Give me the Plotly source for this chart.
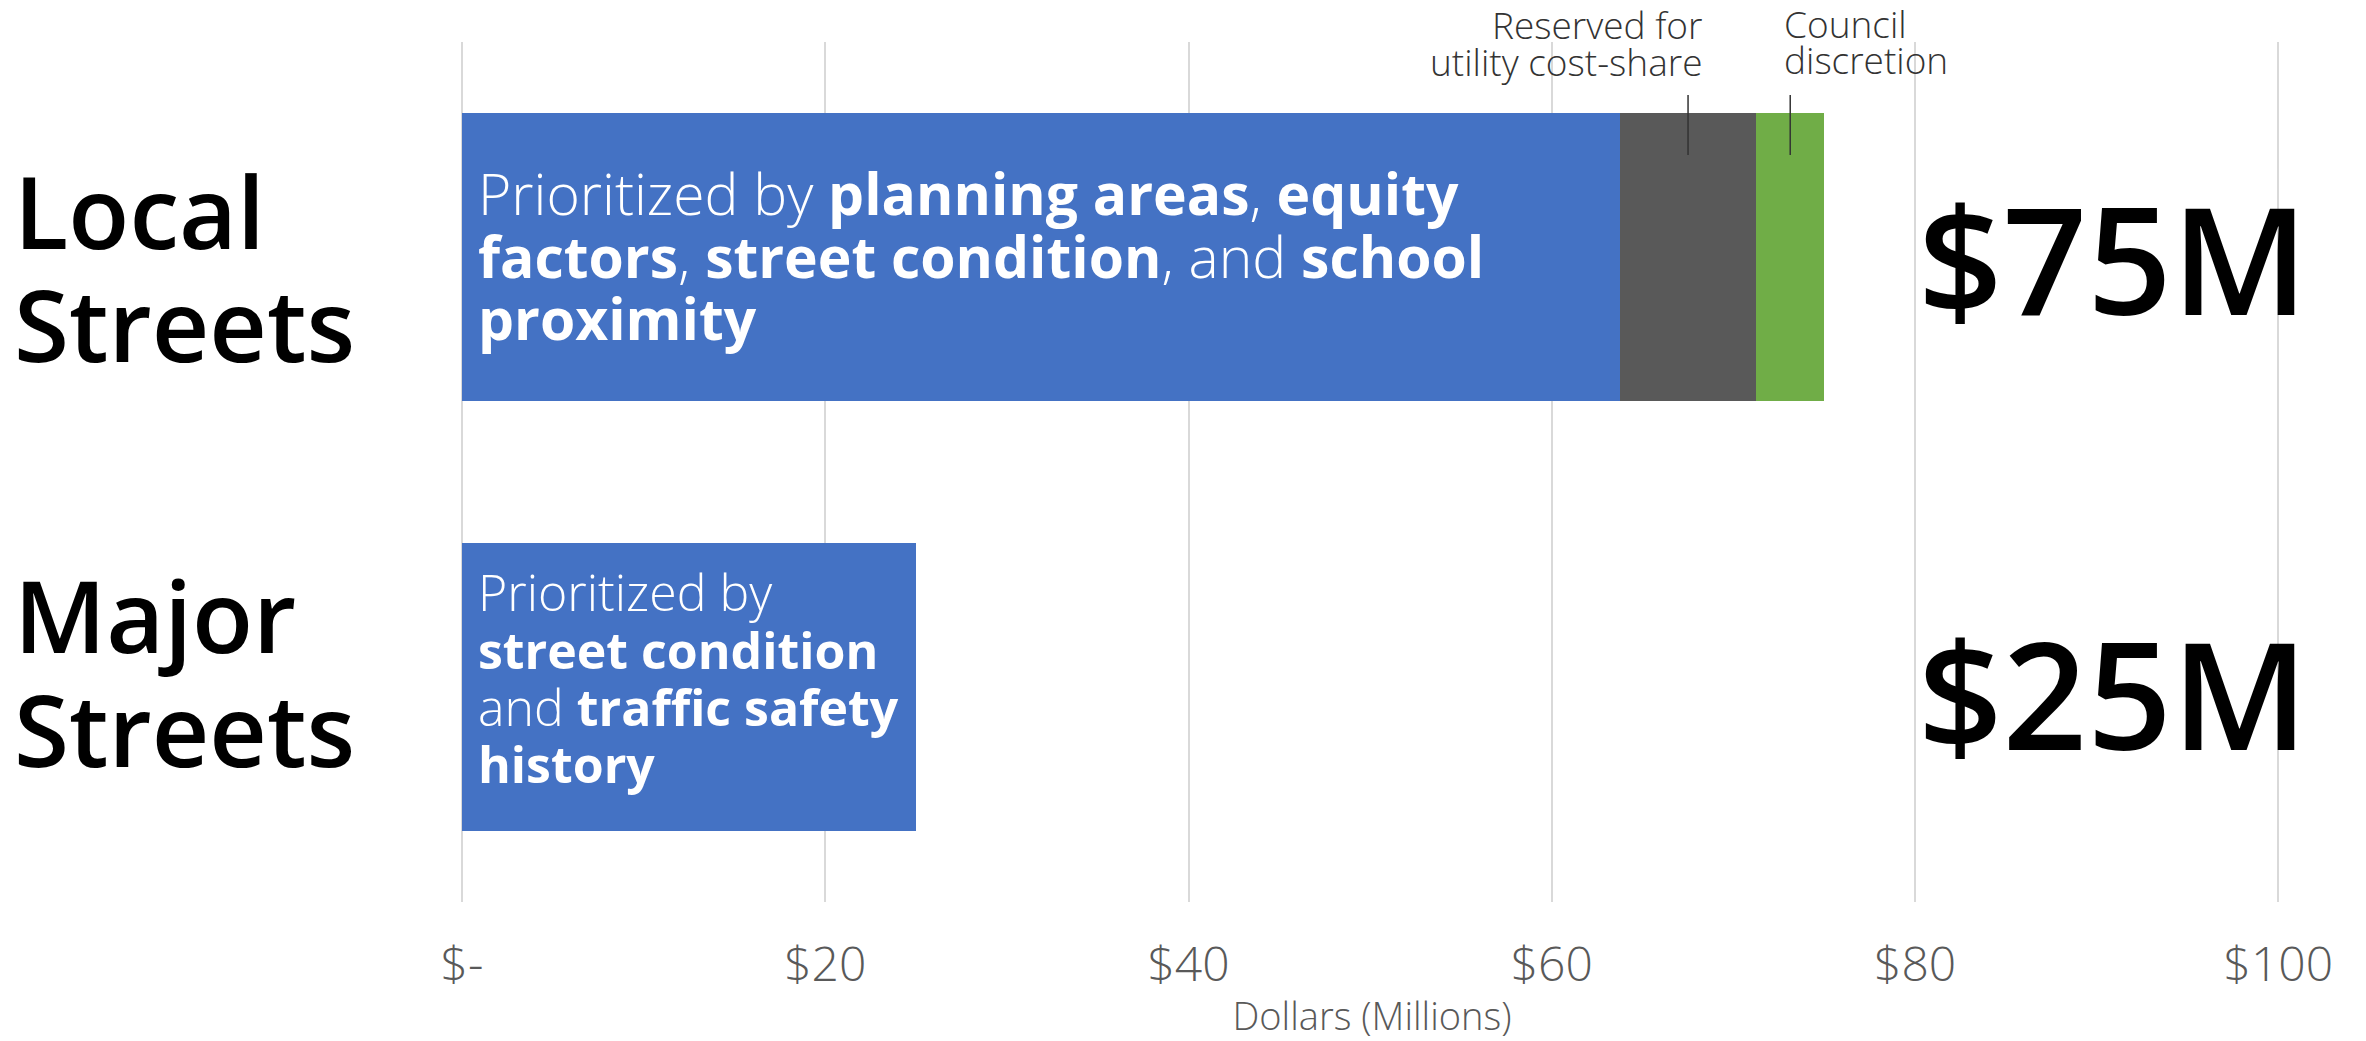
import plotly.graph_objects as go

# ---------------- data ----------------
categories = ["Local Streets", "Major Streets"]
prioritized = [63.75, 25.0]          # blue segment, $M
utility_share = [7.5]                # gray segment (Local only)
council_discretion = [3.75]          # green segment (Local only)
total_labels = ["$75M", "$25M"]
tick_vals = [0, 20, 40, 60, 80, 100]
tick_text = ["$-", "$20", "$40", "$60", "$80", "$100"]

category_lines = {
    "Local Streets": ["Local", "Streets"],
    "Major Streets": ["Major", "Streets"],
}
bar_text_lines = {
    "Local Streets": [
        "Prioritized by <b>planning areas</b>, <b>equity</b>",
        "<b>factors</b>, <b>street condition</b>, and <b>school</b>",
        "<b>proximity</b>",
    ],
    "Major Streets": [
        "Prioritized by",
        "<b>street condition</b>",
        "and <b>traffic safety</b>",
        "<b>history</b>",
    ],
}
utility_note = ["Reserved for", "utility cost-share"]
council_note = ["Council", "discretion"]

# ---------------- style / layout helpers ----------------
FONT = "Open Sans"
BLUE, GRAY, GREEN = "#4472C4", "#595959", "#70AD47"
W, H = 2366, 1041
ML, MR, MT, MB = 462, 84, 42, 139
BAR_W = 0.67
PLOT_H = H - MT - MB


def paper_y(px):
    return (H - MB - px) / PLOT_H


fig = go.Figure()
fig.add_trace(go.Bar(y=categories, x=prioritized, orientation="h",
                     marker=dict(color=BLUE, line=dict(width=0)), width=BAR_W,
                     name="Prioritized", hoverinfo="x+y"))
fig.add_trace(go.Bar(y=categories[:1], x=utility_share, orientation="h",
                     marker=dict(color=GRAY, line=dict(width=0)), width=BAR_W,
                     name="Reserved for utility cost-share"))
fig.add_trace(go.Bar(y=categories[:1], x=council_discretion, orientation="h",
                     marker=dict(color=GREEN, line=dict(width=0)), width=BAR_W,
                     name="Council discretion"))

annotations = []

# category labels (left, big)
cat_offsets = {"Local Streets": [-0.109, 0.153], "Major Streets": [-0.170, 0.095]}
for i, cat in enumerate(categories):
    for line, off in zip(category_lines[cat], cat_offsets[cat]):
        annotations.append(dict(
            text=line, xref="paper", x=(12 - ML) / (W - ML - MR), xanchor="left",
            yref="y", y=i + off, yanchor="middle", showarrow=False,
            font=dict(family=FONT, size=100, color="black", weight=600)))

# text inside the blue bars
bar_text_cfg = {
    "Local Streets": dict(size=57, offsets=[-0.149, -0.003, 0.142]),
    "Major Streets": dict(size=50, offsets=[-0.221, -0.086, 0.047, 0.179]),
}
for i, cat in enumerate(categories):
    cfg = bar_text_cfg[cat]
    for line, off in zip(bar_text_lines[cat], cfg["offsets"]):
        annotations.append(dict(
            text=line, x=0.75, xanchor="left", y=i + off, yanchor="middle",
            xref="x", yref="y", showarrow=False, align="left",
            font=dict(family=FONT, size=cfg["size"], color="white", weight=300)))

# totals on the right
total_offsets = [0.002, 0.013]
for i, (cat, lab) in enumerate(zip(categories, total_labels)):
    annotations.append(dict(
        text=lab, x=90.9, xanchor="center", y=i + total_offsets[i], yanchor="middle",
        xref="x", yref="y", showarrow=False,
        font=dict(family=FONT, size=148, color="black", weight=600)))

# callouts for small segments (above the plot area)
gray_mid = prioritized[0] + utility_share[0] / 2
green_mid = prioritized[0] + utility_share[0] + council_discretion[0] / 2
for line, py in zip(utility_note, [25, 61]):
    annotations.append(dict(
        text=line, x=gray_mid + 0.9, xanchor="right", y=paper_y(py), yanchor="middle",
        xref="x", yref="paper", showarrow=False,
        font=dict(family=FONT, size=37, color="#333333", weight=300)))
for line, py in zip(council_note, [23, 60]):
    annotations.append(dict(
        text=line, x=green_mid - 0.45, xanchor="left", y=paper_y(py), yanchor="middle",
        xref="x", yref="paper", showarrow=False,
        font=dict(family=FONT, size=37, color="#333333", weight=300)))

shapes = []
for mid in (gray_mid, green_mid):
    shapes.append(dict(type="line", xref="x", yref="y", x0=mid, x1=mid,
                       y0=-0.377, y1=-0.237, line=dict(color="#333333", width=1.5)))

fig.update_layout(
    width=W, height=H,
    margin=dict(l=ML, r=MR, t=MT, b=MB, autoexpand=False),
    barmode="stack", bargap=0.33,
    plot_bgcolor="white", paper_bgcolor="white",
    showlegend=False,
    font=dict(family=FONT, color="#595959"),
    annotations=annotations, shapes=shapes,
    xaxis=dict(
        range=[0, 100.2], tickvals=tick_vals, ticktext=tick_text,
        showgrid=True, gridcolor="#d9d9d9", gridwidth=2,
        zeroline=True, zerolinecolor="#d9d9d9", zerolinewidth=2,
        showline=False, ticks="", ticklabelstandoff=30,
        tickfont=dict(family=FONT, size=48, color="#595959", weight=300),
        title=dict(text="Dollars (Millions)", standoff=18,
                   font=dict(family=FONT, size=38, color="#595959", weight=300)),
        automargin=False, fixedrange=True,
    ),
    yaxis=dict(
        type="category", categoryorder="array", categoryarray=categories,
        range=[1.5, -0.5], showticklabels=False, showgrid=False,
        zeroline=False, showline=False, automargin=False, fixedrange=True,
    ),
)

fig.write_html("out.html", config={"displayModeBar": False},
               post_script="document.body.style.margin='0';document.body.style.overflow='hidden';")
